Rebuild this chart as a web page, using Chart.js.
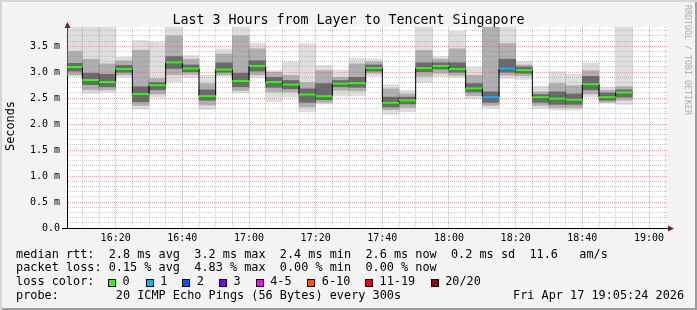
<!DOCTYPE html>
<html>
<head>
<meta charset="utf-8">
<script src="https://cdn.jsdelivr.net/npm/chart.js@4.4.1/dist/chart.umd.min.js"></script>
<style>
body { margin: 0; }
#frame {
	position: relative; width: 697px; height: 310px; overflow: hidden;
	background: #f3f3f3;
	box-shadow: inset 2px 2px 0 #d6d6d6, inset -2px -2px 0 #9e9e9e;
	font-family: "DejaVu Sans Mono", monospace; color: #000;
}
canvas { position: absolute; left: 0; top: 0; }
.t { position: absolute; white-space: pre; line-height: 1; }
.info { font-size: 11.85px; }
.box { position: absolute; width: 6px; height: 6px; border: 1px solid #000; }
</style>
</head>
<body>
<div id="frame">
	<canvas id="smoke_chart" width="697" height="310"></canvas>
	<div class="t" style="left:0;width:697px;text-align:center;top:12.7px;font-size:13.3px;">Last 3 Hours from Layer to Tencent Singapore</div>
	<div class="t" style="left:5px;top:151px;font-size:11.85px;transform-origin:0 0;transform:rotate(-90deg);">Seconds</div>
	<div class="t" style="left:692px;top:5px;font-size:8.3px;color:#aaaaaa;transform-origin:0 0;transform:rotate(90deg);">RRDTOOL / TOBI OETIKER</div>
	<div class="t info" style="left:16px;top:248.5px;">median rtt:  2.8 ms avg  3.2 ms max  2.4 ms min  2.6 ms now  0.2 ms sd  11.6   am/s</div>
	<div class="t info" style="left:16px;top:262px;">packet loss: 0.15 % avg  4.83 % max  0.00 % min  0.00 % now</div>
	<div class="t info" style="left:16px;top:276px;">loss color:</div>
	<div id="loss_legend"></div>
	<div class="t info" style="left:16px;top:289.5px;">probe:        20 ICMP Echo Pings (56 Bytes) every 300s</div>
	<div class="t info" style="left:513px;top:289.5px;">Fri Apr 17 19:05:24 2026</div>
</div>
<script>
// 5 minute slots (start time of every step)
const slots = ["16:05", "16:10", "16:15", "16:20", "16:25", "16:30", "16:35", "16:40", "16:45", "16:50", "16:55",
	"17:00", "17:05", "17:10", "17:15", "17:20", "17:25", "17:30", "17:35", "17:40", "17:45", "17:50", "17:55",
	"18:00", "18:05", "18:10", "18:15", "18:20", "18:25", "18:30", "18:35", "18:40", "18:45", "18:50"];
const stepMin = 5;
const viewStart = "16:05:24";
const viewEnd = "19:05:24";

// rtt in ms
const median = [3.10, 2.85, 2.81, 3.06, 2.58, 2.75, 3.19, 3.07, 2.54, 3.05, 2.83, 3.12, 2.81, 2.76, 2.57, 2.54, 2.78,
	2.79, 3.08, 2.41, 2.46, 3.08, 3.12, 3.06, 2.69, 2.52, 3.07, 3.04, 2.52, 2.49, 2.47, 2.77, 2.52, 2.61];
const smokeMax = [3.90, 3.90, 3.90, 3.29, 3.61, 3.58, 3.90, 3.32, 2.94, 3.45, 3.90, 3.56, 3.03, 3.20, 3.55, 3.13, 3.04,
	3.27, 3.26, 2.76, 2.65, 3.90, 3.30, 3.79, 3.10, 3.90, 3.90, 3.21, 2.73, 3.01, 2.96, 3.18, 2.71, 3.90];
const smokeHigh = [3.40, 3.25, 3.16, 3.22, 3.42, 2.88, 3.70, 3.25, 2.78, 3.35, 3.70, 3.45, 3.00, 2.94, 2.80, 3.03, 2.90,
	3.16, 3.20, 2.68, 2.58, 3.42, 3.25, 3.45, 2.94, 3.90, 3.55, 3.14, 2.62, 2.78, 2.74, 3.03, 2.65, 2.72];
const smokeHighInner = [3.17, 2.98, 2.96, 3.13, 2.72, 2.80, 3.30, 3.14, 2.66, 3.18, 2.98, 3.22, 2.90, 2.84, 2.68, 2.78, 2.84,
	2.90, 3.14, 2.52, 2.52, 3.18, 3.18, 3.18, 2.78, 2.62, 3.25, 3.10, 2.57, 2.62, 2.58, 2.92, 2.60, 2.66];
const smokeLowInner = [3.02, 2.76, 2.72, 3.00, 2.43, 2.66, 3.07, 3.01, 2.46, 3.00, 2.72, 3.02, 2.71, 2.68, 2.42, 2.47, 2.72,
	2.71, 3.02, 2.33, 2.39, 3.01, 3.06, 3.00, 2.62, 2.42, 3.00, 2.98, 2.42, 2.38, 2.38, 2.66, 2.46, 2.52];
const smokeLow = [2.95, 2.66, 2.66, 2.95, 2.36, 2.58, 2.95, 2.96, 2.37, 2.95, 2.65, 2.95, 2.62, 2.62, 2.33, 2.42, 2.65,
	2.64, 2.98, 2.28, 2.32, 2.92, 2.98, 2.94, 2.55, 2.36, 2.94, 2.93, 2.36, 2.32, 2.32, 2.58, 2.42, 2.46];
const smokeMin = [2.92, 2.59, 2.61, 2.90, 2.29, 2.52, 2.81, 2.90, 2.28, 2.92, 2.60, 2.89, 2.43, 2.52, 2.24, 2.39, 2.54,
	2.55, 2.92, 2.19, 2.24, 2.80, 2.91, 2.90, 2.49, 2.30, 2.88, 2.86, 2.30, 2.27, 2.27, 2.52, 2.41, 2.38];
// lost pings (of 20) per step
const lost = [0, 0, 0, 0, 0, 0, 0, 0, 0, 0, 0, 0, 0, 0, 0, 0, 0, 0, 0, 0, 0, 0, 0, 0, 0, 1, 1, 0, 0, 0, 0, 0, 0, 0];

const lossLabels = ["0", "1", "2", "3", "4-5", "6-10", "11-19", "20/20"];
const lossUpTo = [0, 1, 2, 3, 5, 10, 19, 20];
const lossColors = ["#26ff00", "#00b8ff", "#0059ff", "#7e00ff", "#ff00ff", "#ff5500", "#ff0000", "#a10000"];

const xTickLabels = ["16:20", "16:40", "17:00", "17:20", "17:40", "18:00", "18:20", "18:40", "19:00"];
const yTickLabels = ["0.0", "0.5 m", "1.0 m", "1.5 m", "2.0 m", "2.5 m", "3.0 m", "3.5 m"];
const yMax = 3.87;

function toMin(s) {
	const p = s.split(":").map(Number);
	return (p[0] - 16) * 60 + p[1] + (p[2] || 0) / 60;
}

function lossColor(n) {
	for (let i = 0; i < lossUpTo.length; i++) {
		if (n <= lossUpTo[i]) return lossColors[i];
	}
	return lossColors[lossColors.length - 1];
}

// legend for loss colours
const legendX = [108, 145.7, 182.3, 219, 255.7, 307.3, 365, 430.7];
const legend = document.getElementById("loss_legend");
lossLabels.forEach(function(label, i) {
	const box = document.createElement("div");
	box.className = "box";
	box.style.left = legendX[i] + "px";
	box.style.top = "278.5px";
	box.style.background = lossColors[i];
	legend.appendChild(box);
	const txt = document.createElement("div");
	txt.className = "t info";
	txt.style.left = (legendX[i] + 14.5) + "px";
	txt.style.top = "276px";
	txt.textContent = label;
	legend.appendChild(txt);
});

function band(lowArr, highArr) {
	return slots.map((s, i) => ({x: toMin(s) + stepMin / 2, y: [lowArr[i], highArr[i]]}));
}

const stepLine = slots.map((s, i) => ({x: toMin(s), y: median[i]}));
stepLine.push({x: toMin(slots[slots.length - 1]) + stepMin, y: median[median.length - 1]});

const medianPts = [];
slots.forEach(function(s, i) {
	const t = toMin(s);
	medianPts.push({x: t, y: median[i]}, {x: t + stepMin, y: median[i]}, {x: t + stepMin, y: null});
});

const xMajor = xTickLabels.map(toMin);
const gridMinor = "rgba(143,143,143,0.45)";
const gridMajor = "rgba(222,80,80,0.5)";

const barCommon = {type: "bar", grouped: false, barPercentage: 1, categoryPercentage: 1, borderWidth: 0};

const frameDecor = {
	id: "frameDecor",
	beforeDraw: function(chart) {
		const a = chart.chartArea;
		const ctx = chart.ctx;
		ctx.save();
		ctx.fillStyle = "#ffffff";
		ctx.fillRect(a.left, a.top, a.right - a.left, a.bottom - a.top);
		ctx.restore();
	},
	afterDraw: function(chart) {
		const a = chart.chartArea;
		const ctx = chart.ctx;
		ctx.save();
		ctx.strokeStyle = "#000";
		ctx.lineWidth = 1;
		ctx.beginPath();
		ctx.moveTo(a.left - 5, a.bottom + 0.5);
		ctx.lineTo(a.right + 3, a.bottom + 0.5);
		ctx.stroke();
		ctx.fillStyle = "#7f1f1f";
		ctx.beginPath();
		ctx.moveTo(a.left + 0.5, a.top - 5);
		ctx.lineTo(a.left - 2.5, a.top + 1);
		ctx.lineTo(a.left + 3.5, a.top + 1);
		ctx.closePath();
		ctx.fill();
		ctx.beginPath();
		ctx.moveTo(a.right + 7, a.bottom + 0.5);
		ctx.lineTo(a.right + 1, a.bottom - 2.5);
		ctx.lineTo(a.right + 1, a.bottom + 3.5);
		ctx.closePath();
		ctx.fill();
		ctx.restore();
	}
};

new Chart(document.getElementById("smoke_chart"), {
	type: "bar",
	data: {
		datasets: [
			Object.assign({}, barCommon, {data: band(smokeMin, smokeMax), backgroundColor: "rgba(170,170,170,0.4)", order: 5}),
			Object.assign({}, barCommon, {data: band(smokeLow, smokeHigh), backgroundColor: "rgba(120,120,120,0.45)", order: 4}),
			Object.assign({}, barCommon, {data: band(smokeLowInner, smokeHighInner), backgroundColor: "rgba(40,40,40,0.5)", order: 3}),
			{
				type: "line", data: stepLine, stepped: "before", borderColor: "#000000", borderWidth: 1,
				pointRadius: 0, fill: false, order: 2,
			},
			{
				type: "line", data: medianPts, borderColor: lossColors[0], borderWidth: 2, pointRadius: 0,
				fill: false, spanGaps: false, order: 1,
				segment: {
					borderColor: function(ctx) {
						return lossColor(lost[Math.floor(ctx.p0DataIndex / 3)]);
					},
				},
			},
		],
	},
	options: {
		responsive: false,
		devicePixelRatio: 1,
		animation: false,
		layout: {padding: {left: 0, right: 30, top: 27, bottom: 0}},
		plugins: {legend: {display: false}, tooltip: {enabled: false}},
		scales: {
			x: {
				type: "linear",
				min: toMin(viewStart),
				max: toMin(viewEnd),
				offset: false,
				afterFit: function(scale) { scale.height = 82; },
				afterBuildTicks: function(scale) {
					const ticks = [];
					for (let m = Math.ceil(scale.min / stepMin) * stepMin; m < scale.max; m += stepMin) {
						ticks.push({value: m});
					}
					scale.ticks = ticks;
				},
				grid: {
					offset: false,
					drawTicks: false,
					color: function(ctx) {
						return xMajor.indexOf(ctx.tick.value) >= 0 ? gridMajor : gridMinor;
					},
				},
				border: {display: true, color: "#000", dash: [1, 1]},
				ticks: {
					autoSkip: false, maxRotation: 0, minRotation: 0, padding: 4, color: "#000",
					font: {family: "DejaVu Sans Mono", size: 10},
					callback: function(value) {
						const i = xMajor.indexOf(value);
						return i >= 0 ? xTickLabels[i] : "";
					},
				},
			},
			y: {
				type: "linear",
				min: 0,
				max: yMax,
				afterFit: function(scale) { scale.width = 67; },
				afterBuildTicks: function(scale) {
					const ticks = [];
					for (let i = 0; i / 10 <= scale.max; i++) {
						ticks.push({value: i / 10});
					}
					scale.ticks = ticks;
				},
				grid: {
					drawTicks: false,
					color: function(ctx) {
						return Math.round(ctx.tick.value * 10) % 5 === 0 ? gridMajor : gridMinor;
					},
				},
				border: {display: true, color: "#000", dash: [1, 1]},
				ticks: {
					autoSkip: false, padding: 7, color: "#000",
					font: {family: "DejaVu Sans Mono", size: 10},
					callback: function(value) {
						const i = Math.round(value * 10);
						return i % 5 === 0 ? yTickLabels[i / 5] : "";
					},
				},
			},
		},
	},
	plugins: [frameDecor],
});
</script>
</body>
</html>
